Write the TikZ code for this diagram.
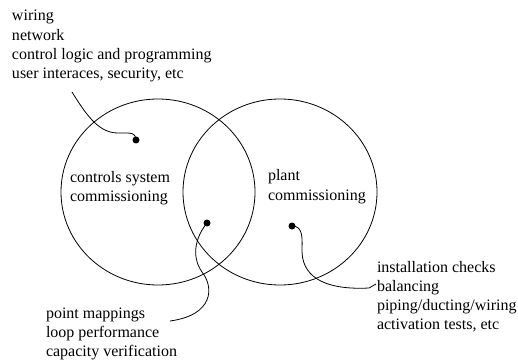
\documentclass[tikz,border=0pt]{standalone}
\usepackage{fontspec}
\setmainfont{Liberation Serif}
\begin{document}
\begin{tikzpicture}[x=1pt,y=-1pt,
  every node/.style={inner sep=0pt,outer sep=0pt},
  txt/.style={anchor=base west,font=\fontsize{16}{19.3}\selectfont},
  set/.style={draw=black,line width=0.8pt},
  wire/.style={draw=black,line width=0.8pt},
  dot/.style={circle,fill=black,minimum size=7pt}]
\useasboundingbox (0,0) rectangle (518,363);

% the two overlapping sets
\draw[set] (158,192) ellipse [x radius=97,y radius=93];
\draw[set] (280,192) ellipse [x radius=97,y radius=93];

% set labels
\node[txt] (cs1) at (70,182.5) {controls system};
\node[txt] (cs2) at (70,201.5) {commissioning};
\node[txt] (pc1) at (268,181) {plant};
\node[txt] (pc2) at (268,200) {commissioning};

% controls-side tasks
\node[txt] (ca) at (12,21) {wiring};
\node[txt] (cb) at (12,40.3) {network};
\node[txt] (cc) at (12,59.6) {control logic and programming};
\node[txt] (cd) at (12,78.9) {user interaces, security, etc};

% shared tasks
\node[txt] (sa) at (46,318) {point mappings};
\node[txt] (sb) at (46,337.3) {loop performance};
\node[txt] (sc) at (46,356.6) {capacity verification};

% plant-side tasks
\node[txt] (pa) at (377,272) {installation checks};
\node[txt] (pb) at (377,291.3) {balancing};
\node[txt] (pd) at (377,310.6) {piping/ducting/wiring};
\node[txt] (pe) at (377,329.9) {activation tests, etc};

% region markers
\node[dot] (d1) at (136,140) {};
\node[dot] (d2) at (207,223) {};
\node[dot] (d3) at (292,226) {};

% free ends of the leader lines
\coordinate (e1) at (72,92);
\coordinate (e2) at (170,321);
\coordinate (e3) at (376,284);

% leader lines
\draw[wire] (e1) .. controls (88,118) and (100,133) .. (118,133)
  -- (128,133) .. controls (134,133) and (136,136) .. (d1.center);
\draw[wire] (d2.center) .. controls (197,235) and (190,255) .. (202,272)
  .. controls (214,287) and (214,315) .. (e2);
\draw[wire] (d3.center) .. controls (304,226) and (302,240) .. (302,252)
  .. controls (303,280) and (330,290) .. (369,288) -- (e3);
\end{tikzpicture}
\end{document}
